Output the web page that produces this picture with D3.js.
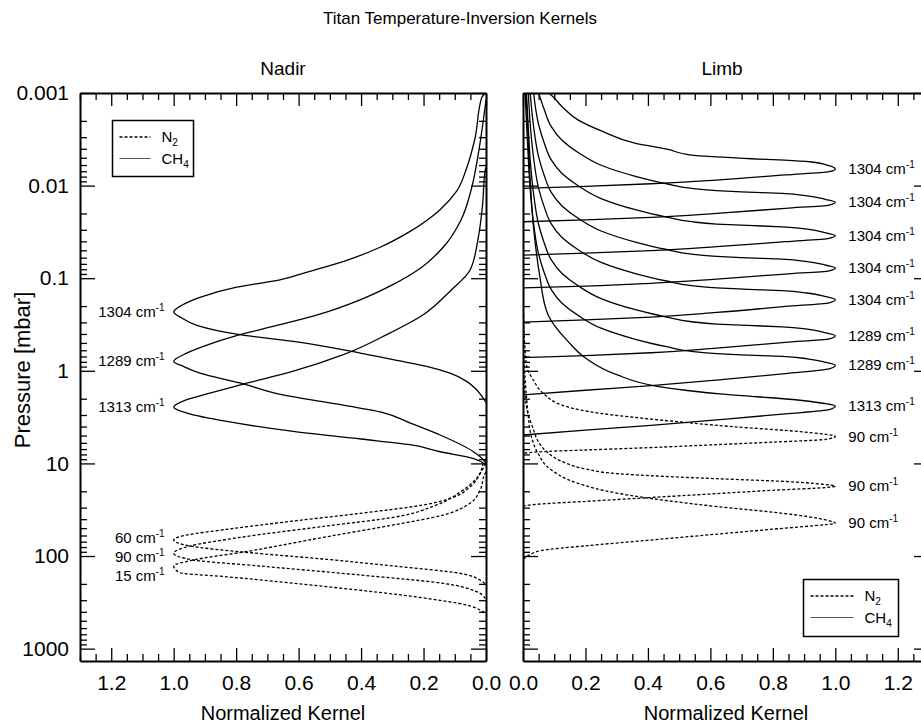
<!DOCTYPE html>
<html>
<head>
<meta charset="utf-8">
<script src="https://cdn.jsdelivr.net/npm/d3@7"></script>
<style>
  body { margin: 0; background: #fff; }
  svg { font-family: "Liberation Sans", Arial, sans-serif; }
  .curve { fill: none; stroke: #000; stroke-width: 1.3; }
  .dashed { stroke-dasharray: 3,2; }
  .axis .domain { stroke: #000; stroke-width: 2; }
  .axis .tick line { stroke: #000; stroke-width: 1.3; }
</style>
</head>
<body>
<svg id="chart" width="921" height="724"></svg>
<script>
// tick values and labels
var kernelTicks = [0, 0.2, 0.4, 0.6, 0.8, 1.0, 1.2];
var pressureTicks = [0.001, 0.01, 0.1, 1, 10, 100, 1000];
var pressureLabels = ["0.001", "0.01", "0.1", "1", "10", "100", "1000"];

// nadir kernels, [normalized kernel, pressure in mbar]
var nadirCH4_1304 = [[0.002,0.001],[0.014,0.00113],[0.035,0.00306],[0.062,0.00646],[0.094,0.0115],[0.147,0.0182],[0.243,0.0312],[0.339,0.0463],[0.446,0.0641],[0.564,0.0843],[0.66,0.104],[0.798,0.125],[0.916,0.161],[0.974,0.196],[1.0,0.232],
	[0.974,0.269],[0.926,0.323],[0.788,0.407],[0.617,0.481],[0.403,0.643],[0.297,0.759],[0.19,0.895],[0.115,1.06],[0.062,1.30],[0.03,1.60],[0.009,1.97],[0.0,2.19]];
var nadirCH4_1289 = [[0.0,0.0012],[0.009,0.00202],[0.025,0.00463],[0.046,0.0106],[0.08,0.0235],[0.135,0.0455],[0.21,0.078],[0.30,0.118],[0.403,0.171],[0.532,0.244],[0.66,0.318],[0.788,0.407],[0.905,0.545],[0.969,0.670],[1.0,0.791],
	[0.969,0.895],[0.916,1.06],[0.788,1.35],[0.65,1.82],[0.5,2.22],[0.33,2.82],[0.24,3.7],[0.147,4.93],[0.04,7.48],[0.003,9.6],[0.0,10.0]];
var nadirCH4_1313 = [[0.0,0.0063],[0.003,0.00695],[0.011,0.0161],[0.025,0.0368],[0.051,0.0815],[0.115,0.138],[0.201,0.248],[0.318,0.407],[0.457,0.670],[0.617,1.01],[0.777,1.39],[0.884,1.74],[0.958,2.05],[1.0,2.48],
	[0.958,2.86],[0.83,3.52],[0.617,4.51],[0.40,5.45],[0.243,6.28],[0.147,7.48],[0.042,8.81],[0.0,10.3]];
var nadirN2_60 = [[0.0,8.9],[0.003,9.18],[0.019,12.8],[0.051,17.9],[0.105,23.2],[0.19,27.7],[0.403,34.6],[0.617,41.9],[0.83,51.5],[0.958,59.3],[1.0,67.1],
	[0.948,78.0],[0.777,90.6],[0.51,108.6],[0.297,128.2],[0.083,153.8],[0.019,181.6],[0.003,200.4]];
var nadirN2_90 = [[0.0,10.0],[0.003,10.4],[0.035,15.1],[0.083,20.4],[0.158,28.1],[0.297,38.2],[0.51,47.4],[0.79,63.1],[0.948,78.0],[1.0,93.5],
	[0.937,110.4],[0.724,128.2],[0.403,160.3],[0.137,197.2],[0.03,242.7],[0.003,286.4]];
var nadirN2_15 = [[0.0,12.3],[0.003,12.8],[0.019,19.4],[0.051,26.9],[0.137,36.1],[0.297,46.2],[0.51,61.9],[0.777,90.6],[0.937,110.4],[1.0,128.2],
	[0.98,151.4],[0.83,167.5],[0.51,214.3],[0.19,286.4],[0.062,338],[0.019,383],[0.003,417]];

// limb kernels
var limbCH4_1 = [[0.082,0.001],[0.09,0.00105],[0.123,0.00138],[0.176,0.00195],[0.251,0.00257],[0.358,0.00347],[0.464,0.00407],[0.539,0.00468],[0.624,0.0049],[0.731,0.00513],[0.838,0.00531],[0.923,0.00556],[0.98,0.0061],[1.0,0.00661],
	[0.98,0.00708],[0.84,0.00767],[0.62,0.00871],[0.41,0.00955],[0.2,0.0102],[0.0,0.0107]];
var limbCH4_2 = [[0.05,0.001],[0.068,0.00151],[0.09,0.00229],[0.125,0.00324],[0.18,0.00447],[0.25,0.00603],[0.36,0.00794],[0.46,0.00955],[0.54,0.0107],[0.62,0.01135],[0.72,0.01175],[0.83,0.01216],[0.91,0.01288],[0.97,0.01413],[1.0,0.01514],
	[0.98,0.01622],[0.84,0.01758],[0.62,0.01995],[0.41,0.02203],[0.2,0.02344],[0.0,0.02455]];
var limbCH4_3 = [[0.034,0.001],[0.05,0.00219],[0.068,0.00347],[0.09,0.00525],[0.125,0.00741],[0.18,0.01023],[0.25,0.0138],[0.36,0.0182],[0.46,0.02188],[0.54,0.02455],[0.62,0.026],[0.72,0.02692],[0.83,0.02786],[0.91,0.02951],[0.97,0.03236],[1.0,0.03467],
	[0.98,0.03715],[0.84,0.04027],[0.62,0.04571],[0.41,0.05047],[0.2,0.0537],[0.0,0.05623]];
var limbCH4_4 = [[0.023,0.001],[0.035,0.00246],[0.05,0.0049],[0.068,0.00776],[0.09,0.01175],[0.125,0.0166],[0.18,0.02291],[0.25,0.0309],[0.36,0.04074],[0.46,0.04898],[0.54,0.05495],[0.62,0.05821],[0.72,0.06026],[0.83,0.06237],[0.91,0.06607],[0.97,0.07244],[1.0,0.07762],
	[0.98,0.08318],[0.84,0.09016],[0.62,0.1023],[0.41,0.1135],[0.2,0.1216],[0.0,0.1274]];
var limbCH4_5 = [[0.017,0.001],[0.023,0.00214],[0.035,0.00537],[0.05,0.01072],[0.068,0.01698],[0.09,0.0257],[0.125,0.03631],[0.18,0.05012],[0.25,0.06761],[0.36,0.08913],[0.46,0.1072],[0.54,0.1202],[0.62,0.1274],[0.72,0.1318],[0.83,0.1365],[0.91,0.1445],[0.97,0.1585],[1.0,0.1698],
	[0.98,0.1841],[0.84,0.2018],[0.62,0.2344],[0.41,0.263],[0.2,0.2818],[0.0,0.2979]];
var limbCH4_6 = [[0.011,0.001],[0.016,0.00209],[0.023,0.00525],[0.035,0.01318],[0.05,0.0263],[0.068,0.04169],[0.09,0.0631],[0.125,0.08913],[0.18,0.123],[0.25,0.166],[0.36,0.2188],[0.46,0.263],[0.54,0.2951],[0.62,0.3126],[0.72,0.3236],[0.83,0.335],[0.91,0.3548],[0.97,0.389],[1.0,0.4169],
	[0.98,0.4519],[0.84,0.4932],[0.62,0.5689],[0.41,0.6383],[0.2,0.6839],[0.0,0.7194]];
var limbCH4_7 = [[0.007,0.001],[0.01,0.00174],[0.016,0.00437],[0.023,0.01096],[0.035,0.02754],[0.05,0.05495],[0.068,0.0871],[0.09,0.1318],[0.125,0.1862],[0.18,0.257],[0.25,0.3467],[0.36,0.4571],[0.46,0.5495],[0.54,0.6166],[0.62,0.6531],[0.72,0.6761],[0.83,0.6998],[0.91,0.7413],[0.97,0.8128],[1.0,0.871],
	[0.98,0.955],[0.84,1.072],[0.62,1.259],[0.41,1.445],[0.2,1.622],[0.0,1.82]];
var limbCH4_8 = [[0.01,0.001],[0.015,0.0024],[0.022,0.00759],[0.034,0.02884],[0.053,0.09162],[0.08,0.2477],[0.144,0.4808],[0.2,0.7278],[0.3,1.102],[0.43,1.469],[0.52,1.622],[0.63,1.778],[0.75,1.905],[0.88,2.065],[0.96,2.239],[1.0,2.399],
	[0.98,2.63],[0.84,2.917],[0.62,3.388],[0.41,3.89],[0.2,4.365],[0.0,4.932]];
var limbN2_a = [[0.002,0.251],[0.006,0.55],[0.012,0.904],[0.033,1.256],[0.065,1.75],[0.14,2.438],[0.247,2.877],[0.439,3.396],[0.672,4.009],[0.887,4.539],[1.0,5.129],
	[0.97,5.495],[0.8,5.888],[0.6,6.31],[0.4,6.761],[0.2,7.161],[0.05,7.499],[0.0,7.762]];
var limbN2_b = [[0.002,1.0],[0.006,1.778],[0.015,2.818],[0.03,3.981],[0.056,6.31],[0.078,7.586],[0.14,10.0],[0.2,11.48],[0.3,12.88],[0.45,13.8],[0.62,14.62],[0.84,15.67],[0.96,16.79],[1.0,17.54],
	[0.97,18.2],[0.8,19.5],[0.6,21.38],[0.4,23.44],[0.2,25.7],[0.05,27.54],[0.0,28.84]];
var limbN2_c = [[0.002,0.6],[0.005,1.0],[0.011,1.905],[0.016,2.877],[0.027,5.14],[0.048,7.78],[0.091,11.78],[0.176,16.41],[0.304,21.04],[0.464,25.29],[0.624,29.31],[0.785,33.19],[0.945,39.17],[1.0,44.36],
	[0.97,45.7],[0.8,51.29],[0.6,58.88],[0.4,67.61],[0.2,77.62],[0.06,87.1],[0.02,97.7],[0.0,109.6]];

// curve labels: wavenumber, pressure where the label sits
var nadirLabels = [["1304", 0.232], ["1289", 0.79], ["1313", 2.48], ["60", 64], ["90", 103], ["15", 164]];
var limbLabels = [["1304", 0.00661], ["1304", 0.01514], ["1304", 0.03467], ["1304", 0.07762], ["1304", 0.1698],
	["1289", 0.4169], ["1289", 0.871], ["1313", 2.399], ["90", 5.129], ["90", 17.54], ["90", 44.36]];

var legendItems = [["N", "2", true], ["CH", "4", false]];

var FONT = '"Liberation Sans", Arial, sans-serif';
var plotTop = 93, plotBottom = 661;

var svg = d3.select('#chart');

var y = d3.scaleLog().domain([0.001, 1360]).range([plotTop, plotBottom]);
var xNadir = d3.scaleLinear().domain([1.3, 0]).range([80, 486]);
var xLimb = d3.scaleLinear().domain([0, 1.3]).range([523, 929]);

// minor tick positions
var kernelMinor = d3.range(0, 1.3001, 0.05).filter(function(d) {
	return Math.abs(d * 5 - Math.round(d * 5)) > 1e-6;
});
var pressureMinor = [];
pressureTicks.slice(0, -1).forEach(function(dec) {
	for (var k = 2; k < 10; k++) pressureMinor.push(dec * k);
});

function styleAxis(g, size) {
	g.attr('font-family', FONT).attr('font-size', size);
	g.selectAll('text').attr('fill', '#000');
}

// draw frame with inward ticks on all four sides
function drawFrame(x, showY) {
	var r = x.range(), left = Math.min(r[0], r[1]), right = Math.max(r[0], r[1]);
	var g = svg.append('g');

	g.append('g').attr('class', 'axis').attr('transform', 'translate(0,' + plotBottom + ')')
		.call(d3.axisBottom(x).tickValues(kernelTicks).tickSize(-13).tickSizeOuter(0)
			.tickPadding(14).tickFormat(d3.format('.1f')))
		.call(styleAxis, 21);
	g.append('g').attr('class', 'axis').attr('transform', 'translate(0,' + plotBottom + ')')
		.call(d3.axisBottom(x).tickValues(kernelMinor).tickSize(-7).tickFormat(''))
		.select('.domain').remove();

	g.append('g').attr('class', 'axis').attr('transform', 'translate(0,' + plotTop + ')')
		.call(d3.axisTop(x).tickValues(kernelTicks).tickSize(-13).tickSizeOuter(0).tickFormat(''));
	g.append('g').attr('class', 'axis').attr('transform', 'translate(0,' + plotTop + ')')
		.call(d3.axisTop(x).tickValues(kernelMinor).tickSize(-7).tickFormat(''))
		.select('.domain').remove();

	g.append('g').attr('class', 'axis').attr('transform', 'translate(' + left + ',0)')
		.call(d3.axisLeft(y).tickValues(pressureTicks).tickSize(-15).tickSizeOuter(0).tickPadding(11)
			.tickFormat(function(d, i) { return showY ? pressureLabels[i] : ''; }))
		.call(styleAxis, 21);
	g.append('g').attr('class', 'axis').attr('transform', 'translate(' + left + ',0)')
		.call(d3.axisLeft(y).tickValues(pressureMinor).tickSize(-7).tickFormat(''))
		.select('.domain').remove();

	g.append('g').attr('class', 'axis').attr('transform', 'translate(' + right + ',0)')
		.call(d3.axisRight(y).tickValues(pressureTicks).tickSize(-15).tickSizeOuter(0).tickFormat(''));
	g.append('g').attr('class', 'axis').attr('transform', 'translate(' + right + ',0)')
		.call(d3.axisRight(y).tickValues(pressureMinor).tickSize(-7).tickFormat(''))
		.select('.domain').remove();
}

function drawCurves(x, id, curves) {
	var r = x.range(), left = Math.min(r[0], r[1]), right = Math.max(r[0], r[1]);
	svg.append('clipPath').attr('id', id)
		.append('rect').attr('x', left).attr('y', plotTop)
		.attr('width', right - left).attr('height', plotBottom - plotTop);

	var line = d3.line()
		.x(function(d) { return x(d[0]); })
		.y(function(d) { return y(d[1]); })
		.curve(d3.curveMonotoneY);

	svg.append('g').attr('clip-path', 'url(#' + id + ')')
		.selectAll('path').data(curves)
	.enter().append('path')
		.attr('class', function(d) { return d.n2 ? 'curve dashed' : 'curve'; })
		.attr('d', function(d) { return line(d.pts); });
}

function drawLabels(list, xPos, anchor) {
	list.forEach(function(d) {
		var t = svg.append('text')
			.attr('x', xPos).attr('y', y(d[1]) + 5)
			.attr('text-anchor', anchor)
			.attr('font-size', 15);
		t.append('tspan').text(d[0] + ' cm');
		t.append('tspan').attr('dy', -6).attr('font-size', 10).text('-1');
	});
}

function drawLegend(bx, by, bw, bh, lineLen) {
	var g = svg.append('g');
	g.append('rect').attr('x', bx).attr('y', by).attr('width', bw).attr('height', bh)
		.attr('fill', '#fff').attr('stroke', '#000').attr('stroke-width', 1.5);
	legendItems.forEach(function(d, i) {
		var ly = by + 16.5 + i * 21.5;
		g.append('line').attr('x1', bx + 7).attr('x2', bx + 7 + lineLen)
			.attr('y1', ly).attr('y2', ly)
			.attr('stroke', d[2] ? '#000' : '#555')
			.attr('stroke-width', d[2] ? 1.3 : 1)
			.attr('stroke-dasharray', d[2] ? '3,2' : null);
		var t = g.append('text').attr('x', bx + 7 + lineLen + 11).attr('y', ly + 5)
			.attr('font-size', 15);
		t.append('tspan').text(d[0]);
		t.append('tspan').attr('dy', 4).attr('font-size', 10).text(d[1]);
	});
}

var nadirCurves = [
	{n2: false, pts: nadirCH4_1304}, {n2: false, pts: nadirCH4_1289}, {n2: false, pts: nadirCH4_1313},
	{n2: true, pts: nadirN2_60}, {n2: true, pts: nadirN2_90}, {n2: true, pts: nadirN2_15}
];
var limbCurves = [limbCH4_1, limbCH4_2, limbCH4_3, limbCH4_4, limbCH4_5, limbCH4_6, limbCH4_7, limbCH4_8]
	.map(function(p) { return {n2: false, pts: p}; })
	.concat([limbN2_a, limbN2_b, limbN2_c].map(function(p) { return {n2: true, pts: p}; }));

drawCurves(xNadir, 'clipNadir', nadirCurves);
drawCurves(xLimb, 'clipLimb', limbCurves);
drawFrame(xNadir, true);
drawFrame(xLimb, false);

drawLabels(nadirLabels, xNadir(1.0) - 9, 'end');
drawLabels(limbLabels, xLimb(1.0) + 13, 'start');

drawLegend(112.5, 120.5, 81, 56, 31);
drawLegend(803.5, 579.5, 95, 57, 43);

// titles
svg.append('text').attr('x', 460).attr('y', 24).attr('text-anchor', 'middle')
	.attr('font-size', 17).text('Titan Temperature-Inversion Kernels');
svg.append('text').attr('x', 283).attr('y', 75).attr('text-anchor', 'middle')
	.attr('font-size', 19).text('Nadir');
svg.append('text').attr('x', 722).attr('y', 75).attr('text-anchor', 'middle')
	.attr('font-size', 19).text('Limb');
svg.append('text').attr('x', 283).attr('y', 720).attr('text-anchor', 'middle')
	.attr('font-size', 20).text('Normalized Kernel');
svg.append('text').attr('x', 726).attr('y', 720).attr('text-anchor', 'middle')
	.attr('font-size', 20).text('Normalized Kernel');
svg.append('text').attr('transform', 'translate(30,370) rotate(-90)').attr('text-anchor', 'middle')
	.attr('font-size', 22).text('Pressure [mbar]');
</script>
</body>
</html>
